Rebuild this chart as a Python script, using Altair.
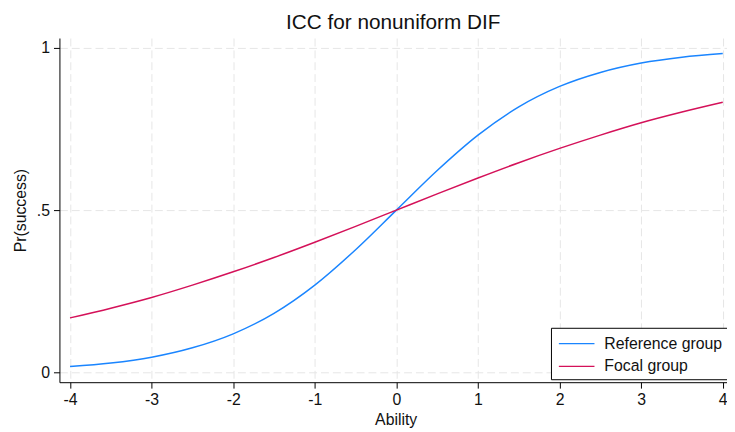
import altair as alt
import pandas as pd

# Values
ability = [-4, -3.5, -3, -2.5, -2, -1.5, -1, -0.5, 0, 0.5, 1, 1.5, 2, 2.5, 3, 3.5, 4]
reference_group = [0.018, 0.029, 0.047, 0.076, 0.119, 0.182, 0.269, 0.378, 0.5,
                   0.622, 0.731, 0.818, 0.881, 0.924, 0.953, 0.971, 0.982]
focal_group = [0.168, 0.198, 0.231, 0.269, 0.310, 0.354, 0.401, 0.450, 0.5,
               0.550, 0.599, 0.646, 0.690, 0.731, 0.769, 0.802, 0.832]
series_names = ["Reference group", "Focal group"]
series_colors = ["#1A85FF", "#D41159"]
x_ticks = [-4, -3, -2, -1, 0, 1, 2, 3, 4]
y_ticks = [0, 0.5, 1]

rows = []
for name, vals in zip(series_names, [reference_group, focal_group]):
    for a, v in zip(ability, vals):
        rows.append({"Ability": a, "p": v, "group": name})
df = pd.DataFrame(rows)

FONT = "Liberation Sans"

chart = (
    alt.Chart(df)
    .mark_line(strokeWidth=1.5, interpolate="monotone")
    .encode(
        x=alt.X(
            "Ability:Q",
            scale=alt.Scale(domain=[-4.13, 4.052], nice=False, zero=False),
            axis=alt.Axis(
                values=x_ticks,
                title="Ability",
                labelExpr="'' + datum.value",
                titleX=340,
                titleY=43,
                titleBaseline="alphabetic",
            ),
        ),
        y=alt.Y(
            "p:Q",
            scale=alt.Scale(domain=[-0.03, 1.03], nice=False, zero=False),
            axis=alt.Axis(
                values=y_ticks,
                title="Pr(success)",
                labelExpr="datum.value == 0.5 ? '.5' : '' + datum.value",
                titleX=-34,
                titleY=174,
                titleBaseline="alphabetic",
                titleAngle=270,
            ),
        ),
        color=alt.Color(
            "group:N",
            scale=alt.Scale(domain=series_names, range=series_colors),
            sort=series_names,
            legend=alt.Legend(
                title=None,
                orient="none",
                legendX=497,
                legendY=293,
                padding=5,
                rowPadding=4,
                symbolType="M-0.8,0H2.8",
                symbolSize=400,
                symbolStrokeWidth=1.5,
                labelOffset=27,
                labelFontSize=16,
                labelFont=FONT,
                labelColor="#111111",
                strokeColor="black",
                fillColor="white",
            ),
        ),
    )
    .properties(
        width=675,
        height=348,
        title=alt.TitleParams(
            "ICC for nonuniform DIF",
            fontSize=21,
            font=FONT,
            fontWeight="normal",
            color="#111111",
            anchor="middle",
            frame="group",
            offset=5,
        ),
        autosize=alt.AutoSizeParams(type="none"),
        padding={"left": 52, "top": 28, "right": 0, "bottom": 48},
    )
    .configure_view(stroke=None)
    .configure_axis(
        labelFont=FONT,
        titleFont=FONT,
        labelFontSize=16,
        titleFontSize=16,
        titleFontWeight="normal",
        labelColor="#111111",
        titleColor="#111111",
        domainColor="black",
        domainWidth=1,
        tickColor="black",
        tickSize=6,
        tickWidth=1,
        labelPadding=4,
        grid=True,
        gridColor="#E6E6E6",
        gridDash=[8, 4],
        gridWidth=1,
    )
)

chart.save("out.html", embed_options={"renderer": "svg", "actions": False})
